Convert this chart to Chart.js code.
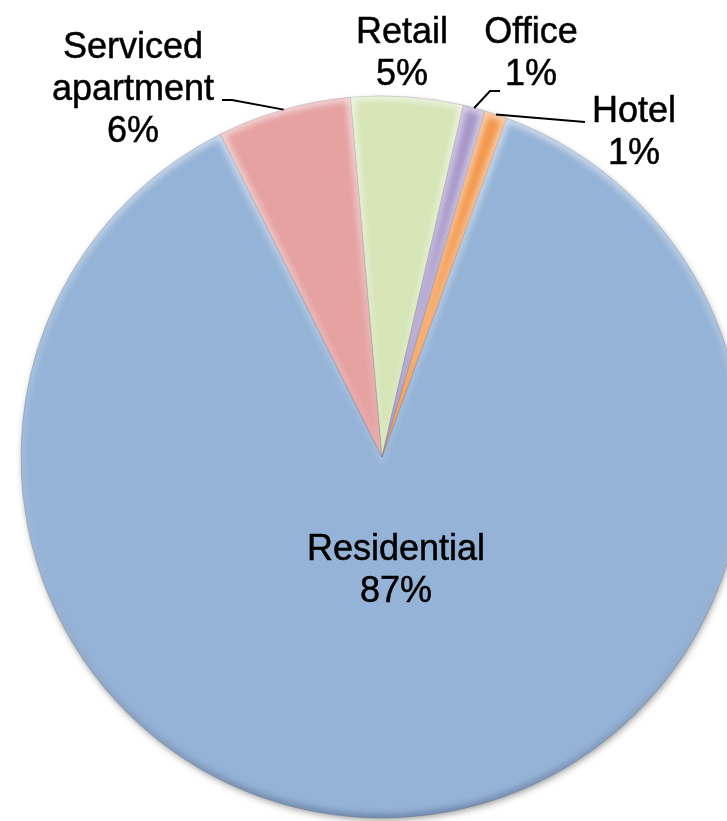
<!DOCTYPE html>
<html>
<head>
<meta charset="utf-8">
<title>Land use mix</title>
<script src="https://cdn.jsdelivr.net/npm/chart.js@4/dist/chart.umd.min.js"></script>
<style>
  html, body { margin: 0; padding: 0; background: #fff; overflow: hidden; width: 727px; height: 821px; }
  #wrap { position: absolute; left: 0; top: 0; width: 764px; height: 821px; }
</style>
</head>
<body>
<div id="wrap"><canvas id="chart" width="764" height="821"></canvas></div>
<script>
// land use shares, percent
const categories = ['Residential', 'Serviced apartment', 'Retail', 'Office', 'Hotel'];
const shares = [87, 6, 5, 1, 1];
const sliceColors = ['#95b3d7', '#e6a1a1', '#d5e5b6', '#a696c8', '#f3964a'];

// where each label block sits (centre x, first baseline) and its leader bends
const labelLayout = [
  { x: 396, y: 560 },
  { x: 133, y: 58, leader: [[222, 100], [232, 100]] },
  { x: 402, y: 43 },
  { x: 531, y: 43, leader: [[500, 91], [490, 91]] },
  { x: 634, y: 122, leader: [[585, 122]] }
];
const lineHeight = 42;

function arcPath(ctx, arc) {
  ctx.beginPath();
  ctx.moveTo(arc.x, arc.y);
  ctx.arc(arc.x, arc.y, arc.outerRadius, arc.startAngle, arc.endAngle);
  ctx.closePath();
}

// soft drop shadow under the whole pie
const pieShadow = {
  id: 'pieShadow',
  beforeDatasetsDraw(chart) {
    const a = chart.getDatasetMeta(0).data[0];
    const ctx = chart.ctx;
    ctx.save();
    ctx.shadowColor = 'rgba(0,0,0,0.4)';
    ctx.shadowBlur = 7;
    ctx.shadowOffsetY = 3;
    ctx.shadowOffsetX = 1;
    ctx.fillStyle = sliceColors[0];
    ctx.beginPath();
    ctx.arc(a.x, a.y, a.outerRadius - 1, 0, Math.PI * 2);
    ctx.fill();
    ctx.restore();
  }
};

// light-from-above bevel along every slice edge
const bevel = {
  id: 'bevel',
  afterDatasetsDraw(chart) {
    const ctx = chart.ctx;
    const arcs = chart.getDatasetMeta(0).data;
    const a0 = arcs[0];
    const grad = ctx.createLinearGradient(0, a0.y - a0.outerRadius, 0, a0.y + a0.outerRadius);
    grad.addColorStop(0, 'rgba(255,255,255,0.6)');
    grad.addColorStop(0.45, 'rgba(255,255,255,0.12)');
    grad.addColorStop(1, 'rgba(60,80,110,0.45)');
    arcs.forEach(arc => {
      ctx.save();
      arcPath(ctx, arc);
      ctx.clip();
      ctx.filter = 'blur(3px)';
      ctx.lineWidth = 8;
      ctx.strokeStyle = grad;
      arcPath(ctx, arc);
      ctx.stroke();
      ctx.restore();
    });
  }
};

// category name + percentage, with leader lines to the slice rim
const sliceLabels = {
  id: 'sliceLabels',
  afterDraw(chart) {
    const ctx = chart.ctx;
    const arcs = chart.getDatasetMeta(0).data;
    ctx.save();
    ctx.font = '36px "Liberation Sans", Arial, sans-serif';
    ctx.fillStyle = '#000';
    ctx.strokeStyle = '#000';
    ctx.lineWidth = 0.5;
    ctx.textAlign = 'center';
    ctx.textBaseline = 'alphabetic';
    arcs.forEach((arc, i) => {
      const pos = labelLayout[i];
      const lines = categories[i].split(' ').concat([shares[i] + '%']);
      lines.forEach((t, k) => {
        ctx.fillText(t, pos.x, pos.y + k * lineHeight);
        ctx.strokeText(t, pos.x, pos.y + k * lineHeight);
      });
    });
    arcs.forEach((arc, i) => {
      const pos = labelLayout[i];
      if (!pos.leader) return;
      const mid = (arc.startAngle + arc.endAngle) / 2;
      const ex = arc.x + Math.cos(mid) * arc.outerRadius;
      const ey = arc.y + Math.sin(mid) * arc.outerRadius;
      ctx.beginPath();
      ctx.moveTo(pos.leader[0][0], pos.leader[0][1]);
      pos.leader.slice(1).forEach(p => ctx.lineTo(p[0], p[1]));
      ctx.lineTo(ex, ey);
      ctx.lineWidth = 2;
      ctx.stroke();
    });
    ctx.restore();
  }
};

new Chart(document.getElementById('chart'), {
  type: 'pie',
  data: {
    labels: categories,
    datasets: [{
      data: shares,
      backgroundColor: sliceColors,
      borderColor: 'rgba(110,110,130,0.35)',
      borderWidth: 1
    }]
  },
  options: {
    responsive: false,
    animation: false,
    rotation: 20.2,
    radius: 361,
    layout: { padding: { left: 21, right: 21, top: 96, bottom: 3 } },
    plugins: {
      legend: { display: false },
      tooltip: { enabled: false },
      title: { display: false }
    }
  },
  plugins: [pieShadow, bevel, sliceLabels]
});
</script>
</body>
</html>
